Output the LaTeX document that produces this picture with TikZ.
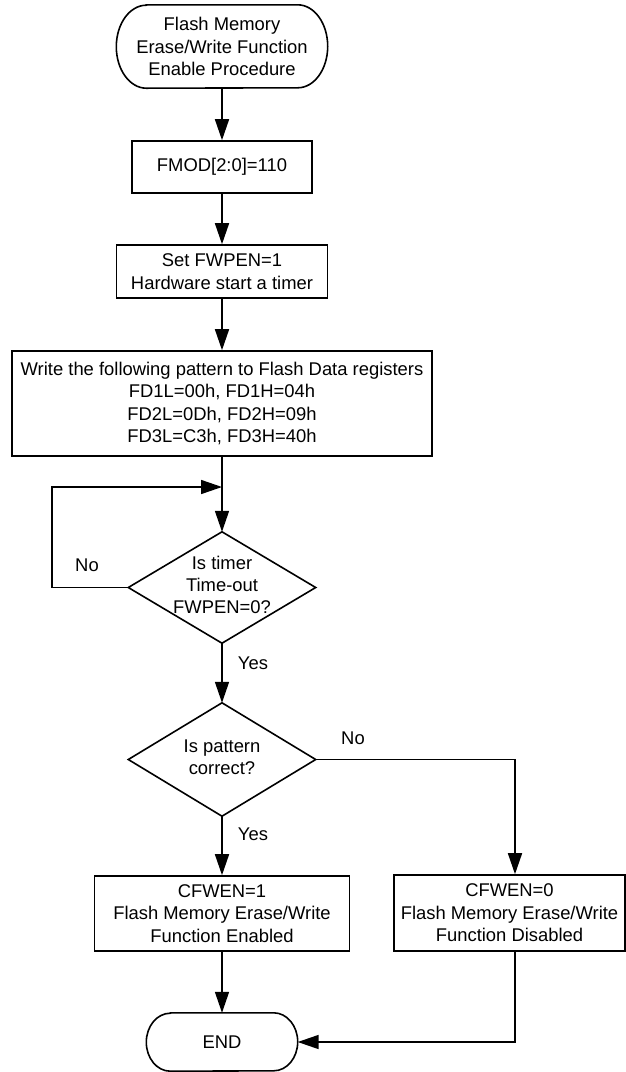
\documentclass[tikz,border=0pt]{standalone}
\usepackage{fontspec}
\setmainfont{Liberation Sans}
\usetikzlibrary{arrows.meta}
\begin{document}
\begin{tikzpicture}[x=1pt,y=-1pt,
  every node/.style={font=\fontsize{18.4}{22.4}\selectfont, align=center, inner sep=0pt},
  proc/.style={draw, line width=1.6pt, rectangle, minimum width=#1},
  flowbox/.style={rectangle, minimum width=#1},
  lbl/.style={},
  arr/.style={line width=1.6pt, -{Triangle[length=21pt,width=14pt]}},
  ln/.style={line width=1.6pt}]
\useasboundingbox (0,0) rectangle (626,1072);
% nodes
\node[flowbox=211pt, minimum height=83pt] (start) at (222,46.5) {Flash Memory\\Erase/Write Function\\Enable Procedure};
\node[proc=180pt, minimum height=52pt] (fmod) at (222,167) {FMOD[2:0]=110};
\node[proc=211pt, minimum height=53pt] (fwpen) at (222,271.5) {Set FWPEN=1\\Hardware start a timer};
\node[proc=420pt, minimum height=105pt] (write) at (222,403.5) {Write the following pattern to Flash Data registers\\FD1L=00h, FD1H=04h\\FD2L=0Dh, FD2H=09h\\FD3L=C3h, FD3H=40h};
\node[flowbox=187pt, minimum height=111pt] (d1) at (222,587.5) {};
\node at (222,585) {Is timer\\Time-out\\FWPEN=0?};
\node[flowbox=187pt, minimum height=113pt] (d2) at (222,759.5) {};
\node at (222,757.5) {Is pattern\\correct?};
\node[proc=255pt, minimum height=75pt] (en) at (222,913.5) {CFWEN=1\\Flash Memory Erase/Write\\Function Enabled};
\node[proc=231pt, minimum height=76pt] (dis) at (509.5,913) {CFWEN=0\\Flash Memory Erase/Write\\Function Disabled};
\node[flowbox=151pt, minimum height=58pt] (end) at (222,1042) {END};
% labels
\node[lbl] (no1) at (87,565) {No};
\node[lbl] (yes1) at (253,663) {Yes};
\node[lbl] (no2) at (353,738) {No};
\node[lbl] (yes2) at (253,834) {Yes};
% terminator outlines
\draw[ln] ([xshift=30pt]start.north west) -- ([xshift=-30pt]start.north east)
  arc[start angle=90,end angle=-90,x radius=30pt,y radius=41.5pt]
  -- ([xshift=30pt]start.south west)
  arc[start angle=270,end angle=90,x radius=30pt,y radius=41.5pt] -- cycle;
\draw[ln] ([xshift=24pt]end.north west) -- ([xshift=-24pt]end.north east)
  arc[start angle=90,end angle=-90,x radius=24pt,y radius=29pt]
  -- ([xshift=24pt]end.south west)
  arc[start angle=270,end angle=90,x radius=24pt,y radius=29pt] -- cycle;
% diamonds
\draw[ln, line join=miter] (d1.north) -- (d1.east) -- (d1.south) -- (d1.west) -- cycle;
\draw[ln, line join=miter] (d2.north) -- (d2.east) -- (d2.south) -- (d2.west) -- cycle;
% connectors
\coordinate (J) at (222,487);
\coordinate (L) at (52,587.5);
\draw[arr] (start.south) -- (fmod.north);
\draw[arr] (fmod.south) -- (fwpen.north);
\draw[arr] (fwpen.south) -- (write.north);
\draw[arr] (write.south) -- (d1.north);
\draw[arr] (d1.west) -- (L) |- (J);
\draw[arr] (d1.south) -- (d2.north);
\draw[arr] (d2.south) -- (en.north);
\draw[arr] (d2.east) -| ([xshift=5.5pt]dis.north);
\draw[arr] (en.south) -- (end.north);
\draw[arr] ([xshift=5.5pt]dis.south) |- (end.east);
\end{tikzpicture}
\end{document}
